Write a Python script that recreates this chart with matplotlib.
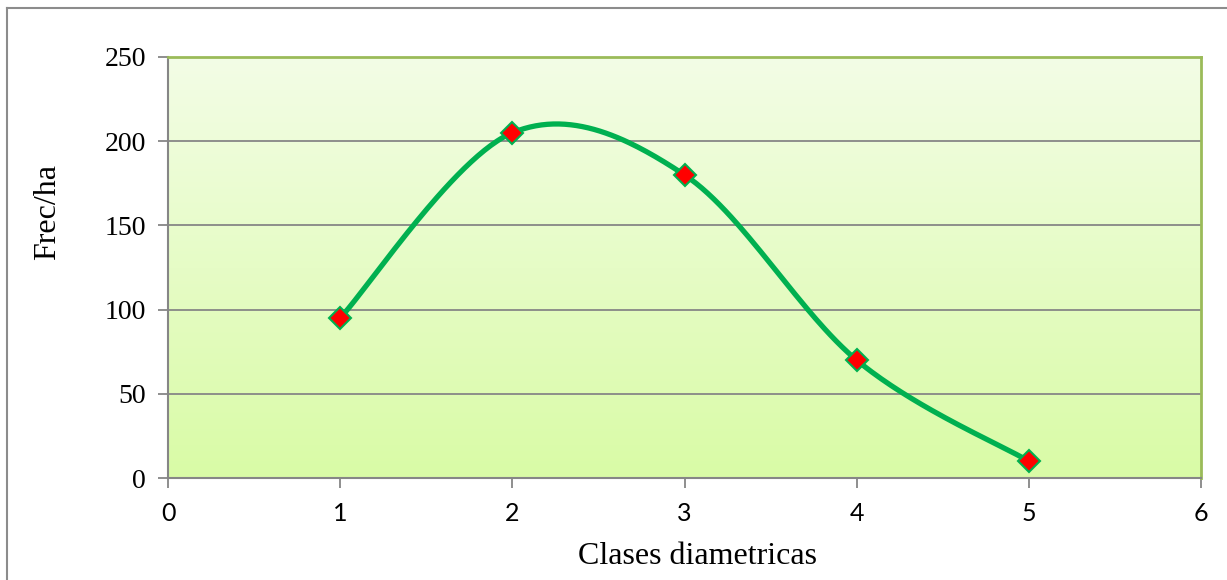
import matplotlib
matplotlib.use('Agg')
import matplotlib.pyplot as plt
import numpy as np
from matplotlib.lines import Line2D
from matplotlib.colors import LinearSegmentedColormap

# Diameter classes and stems per hectare
clases = [1, 2, 3, 4, 5]
frec = [95, 205, 180, 70, 10]
xticks = [0, 1, 2, 3, 4, 5, 6]
yticks = [0, 50, 100, 150, 200, 250]


def smooth(xs, ys, n=60):
    # Bezier smoothing in the style of spreadsheet "smoothed line" charts
    p = np.column_stack([xs, ys]).astype(float)
    out = []
    for i in range(len(p) - 1):
        p0 = p[i - 1] if i > 0 else p[i]
        p1, p2 = p[i], p[i + 1]
        p3 = p[i + 2] if i + 2 < len(p) else p[i + 1]
        c1 = p1 + (p2 - p0) / 6
        c2 = p2 - (p3 - p1) / 6
        t = np.linspace(0, 1, n)[:, None]
        seg = ((1 - t) ** 3) * p1 + 3 * ((1 - t) ** 2) * t * c1 + 3 * (1 - t) * t ** 2 * c2 + t ** 3 * p2
        out.append(seg if i == 0 else seg[1:])
    seg = np.vstack(out)
    return seg[:, 0], seg[:, 1]


fig = plt.figure(figsize=(12.27, 5.8), dpi=100)
ax = fig.add_axes([168 / 1227, 102 / 580, 1033 / 1227, 421 / 580])

# vertical green gradient behind the plot area
cmap = LinearSegmentedColormap.from_list('bg', ['#d9fba6', '#f3fde6'])
grad = np.linspace(0, 1, 256)[:, None]
ax.imshow(grad, cmap=cmap, aspect='auto', origin='lower',
          extent=[0, 1, 0, 1], transform=ax.transAxes, zorder=0)

ax.set_xlim(0, 6)
ax.set_ylim(0, 250)
ax.set_xticks(xticks)
ax.set_yticks(yticks)
ax.grid(axis='y', color='#868686', linewidth=1.3, zorder=1)
ax.set_axisbelow(True)

sx, sy = smooth(clases, frec)
ax.plot(sx, sy, color='#00b050', linewidth=3.8, zorder=3, solid_capstyle='round')
ax.plot(clases, frec, linestyle='none', marker='D', markersize=11,
        markerfacecolor='#ff0000', markeredgecolor='#00b050', markeredgewidth=1.5, zorder=4)

for side in ['top', 'right']:
    ax.spines[side].set_color('#9bbb59')
    ax.spines[side].set_linewidth(2)
for side in ['left', 'bottom']:
    ax.spines[side].set_color('#868686')
    ax.spines[side].set_linewidth(1.5)

ax.tick_params(axis='both', direction='out', length=7, width=1.3, color='#868686')
ax.tick_params(axis='y', pad=9)
ax.tick_params(axis='x', pad=10)
for lab in ax.get_yticklabels():
    lab.set_fontfamily('Liberation Serif')
    lab.set_fontsize(20)
for lab in ax.get_xticklabels():
    lab.set_fontfamily('Lato')
    lab.set_fontsize(18)

ax.set_xlabel('Clases diametricas', fontfamily='Liberation Serif', fontsize=23)
ax.set_ylabel('Frec/ha', fontfamily='Liberation Serif', fontsize=23)
ax.xaxis.set_label_coords(0.513, -0.152)
ax.yaxis.set_label_coords(-0.1025, 0.632)

# outer chart frame
fig.add_artist(Line2D([7 / 1227, 7 / 1227], [0, 1 - 8 / 580], transform=fig.transFigure,
                      color='#8c8c8c', linewidth=1.5))
fig.add_artist(Line2D([7 / 1227, 1], [1 - 8 / 580, 1 - 8 / 580], transform=fig.transFigure,
                      color='#8c8c8c', linewidth=1.5))

fig.savefig('out.png', dpi=100)
